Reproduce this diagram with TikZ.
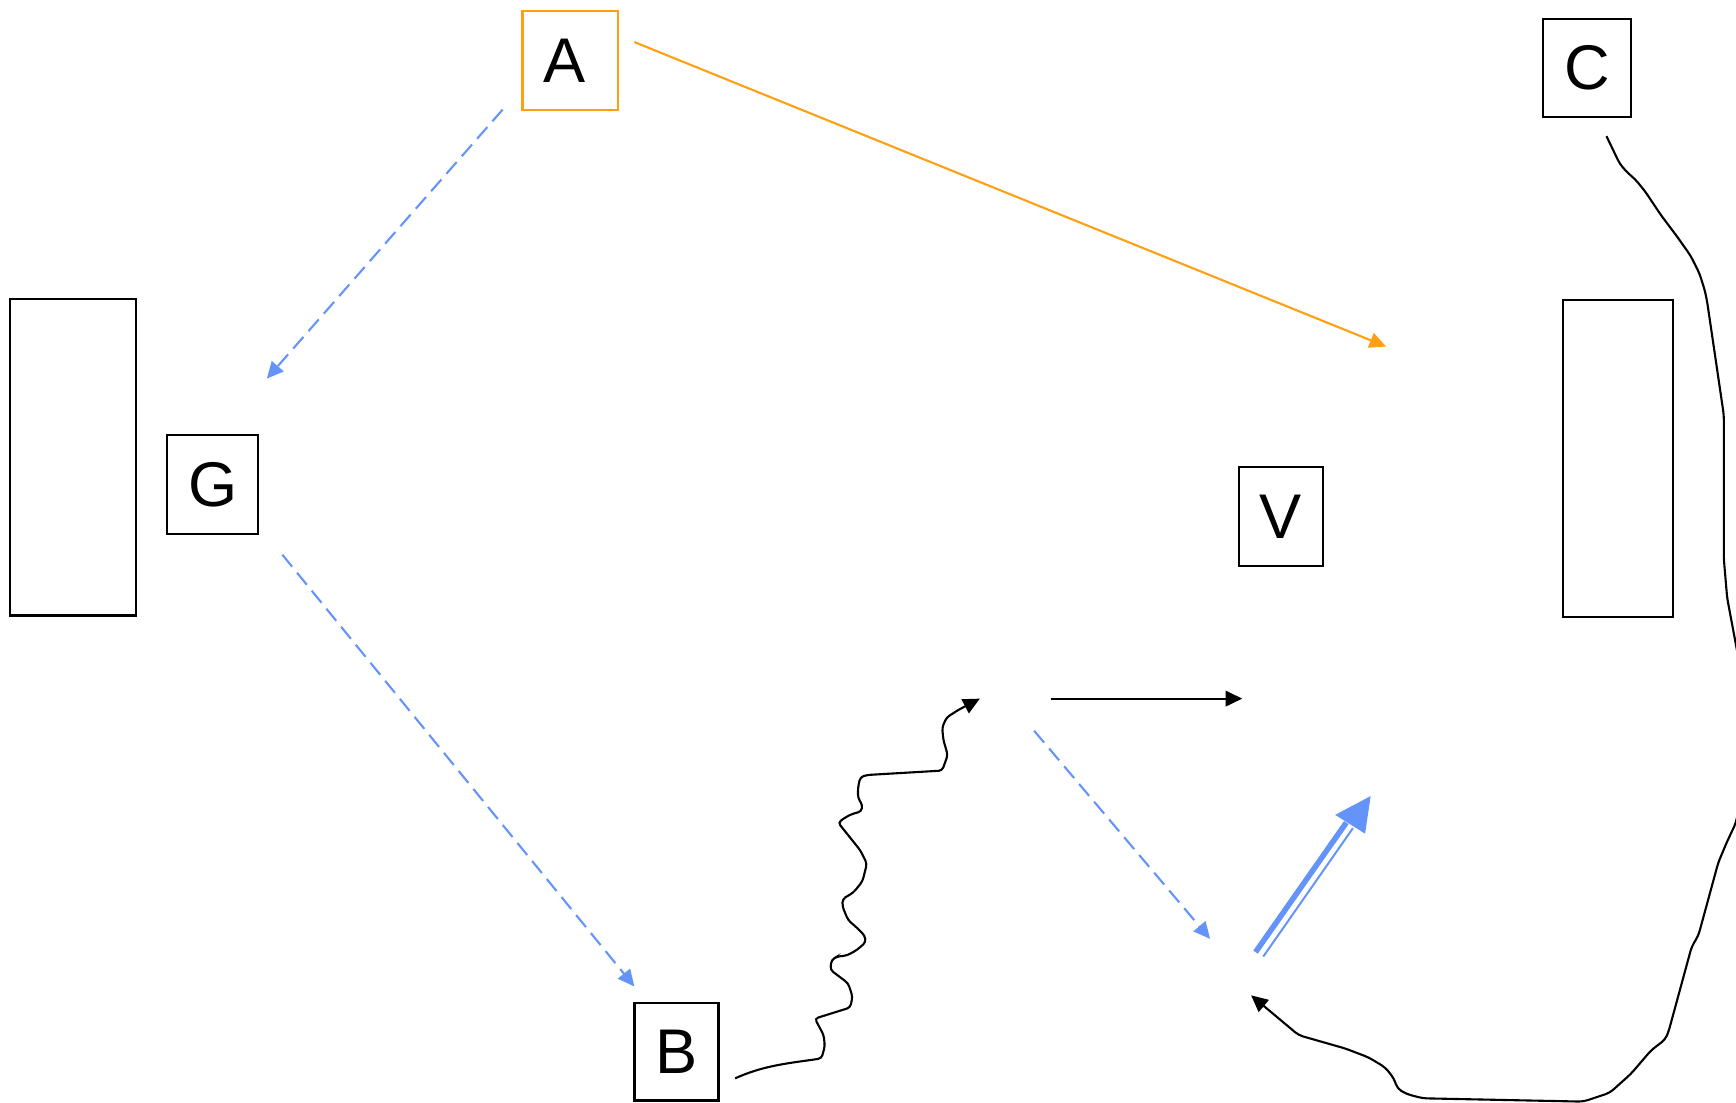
\documentclass[tikz,border=0pt]{standalone}
\usepackage{fontspec}
\setmainfont{Liberation Sans}
\usetikzlibrary{arrows.meta}
\definecolor{orng}{RGB}{255,160,20}
\definecolor{myblue}{RGB}{100,148,250}
\begin{document}
\begin{tikzpicture}[x=1pt,y=-1pt,
  box/.style={draw=black, line width=2pt, fill=white, inner sep=0pt,
    font=\fontsize{57}{60}\selectfont},
  bigbox/.style={draw=black, line width=2pt, inner sep=0pt},
  conn/.style={line width=1.9pt, -{Triangle[length=15pt,width=14pt]}},
  dsh/.style={conn, draw=myblue, dash pattern=on 14pt off 7pt},
  thickblue/.style={draw=myblue, line width=5pt},
  thinblue/.style={draw=myblue, line width=1.8pt}
]
\useasboundingbox (0,0) rectangle (1568,996);

% nodes
\node[box, draw=orng, minimum width=86pt, minimum height=89pt] (A) at (515,54.5) {\hspace*{-10pt}A};
\node[box, minimum width=79pt, minimum height=89pt] (C) at (1433.5,61.5) {C};
\node[box, minimum width=82pt, minimum height=89pt] (G) at (192,437.5) {G};
\node[box, minimum width=76pt, minimum height=89pt] (V) at (1157,466.5) {V};
\node[box, minimum width=76pt, minimum height=88pt] (B) at (611,950) {B};
\node[bigbox, minimum width=114pt, minimum height=286pt] (L) at (66,413) {};
\node[bigbox, minimum width=99pt, minimum height=286pt] (R) at (1461.5,414) {};

% free connector ends
\coordinate (a1s) at (573,38);   \coordinate (a1e) at (1252,313);
\coordinate (d1s) at (454,99);   \coordinate (d1e) at (241,342);
\coordinate (d2s) at (255,501);  \coordinate (d2e) at (573,891);
\coordinate (d3s) at (934,660);  \coordinate (d3e) at (1093,848);
\coordinate (h1s) at (949,631);  \coordinate (h1e) at (1122,631);
\coordinate (ws) at (664,974);   \coordinate (we) at (885,631);
\coordinate (cs) at (1451,123);  \coordinate (ce) at (1130,899);
\coordinate (k1s) at (1134,860); \coordinate (k1e) at (1216,743);
\coordinate (k2s) at (1141,864); \coordinate (k2e) at (1222,748);
\coordinate (kt) at (1238,719);  \coordinate (kl) at (1206,736);
\coordinate (kr) at (1233,753);

% orange arrow
\draw[conn, draw=orng] (a1s) -- (a1e);
% blue dashed arrows
\draw[dsh] (d1s) -- (d1e);
\draw[dsh] (d2s) -- (d2e);
\draw[dsh] (d3s) -- (d3e);
% black straight arrow
\draw[conn] (h1s) -- (h1e);

% wavy arrow from B
\draw[conn, rounded corners=3pt] (ws) .. controls (690,962) and (715,960) .. (742,956)
  -- (745,945) -- (744,935) -- (736,920) -- (768,910) -- (770,900) -- (766,888)
  -- (750,876) -- (751,867) -- (756,864) -- (765,863) -- (774,858) -- (782,851)
  -- (781,845) -- (774,838) -- (766,831) -- (761,819) -- (761,812) -- (771,806)
  -- (779,796) -- (783,780) -- (777,768) -- (757,743) -- (764,738) -- (770,735)
  -- (778,733) -- (779,727) -- (775,721) -- (775,711) -- (777,702) -- (783,700)
  -- (851,696) -- (856,682) -- (852,668) -- (851,657) -- (855,648) -- (866,641)
  -- (we);

% long curve from C
\draw[conn, rounded corners=4pt] (cs) -- (1463,148) -- (1470,156) -- (1477,162)
  -- (1486,173) -- (1500,194) -- (1515,214) -- (1527,231) -- (1535,247)
  -- (1540,263) -- (1542,273) -- (1557,375) -- (1557,448) -- (1557,505)
  -- (1560,540) -- (1566,572) -- (1575,620) -- (1578,660) -- (1574,710)
  -- (1568,743) -- (1560,760) -- (1552,779) -- (1534,845) -- (1528,855)
  -- (1507,932) -- (1504,939) -- (1496,945) -- (1491,949) -- (1473,970)
  -- (1454,987) -- (1430,995) -- (1285,992) -- (1270,988) -- (1262,983)
  -- (1259,974) -- (1251,964) -- (1236,955) -- (1215,947) -- (1173,935)
  -- (ce);

% double blue arrow
\draw[thickblue] (k1s) -- (k1e);
\draw[thinblue] (k2s) -- (k2e);
\fill[myblue] (kt) -- (kl) -- (kr) -- cycle;
\end{tikzpicture}
\end{document}
